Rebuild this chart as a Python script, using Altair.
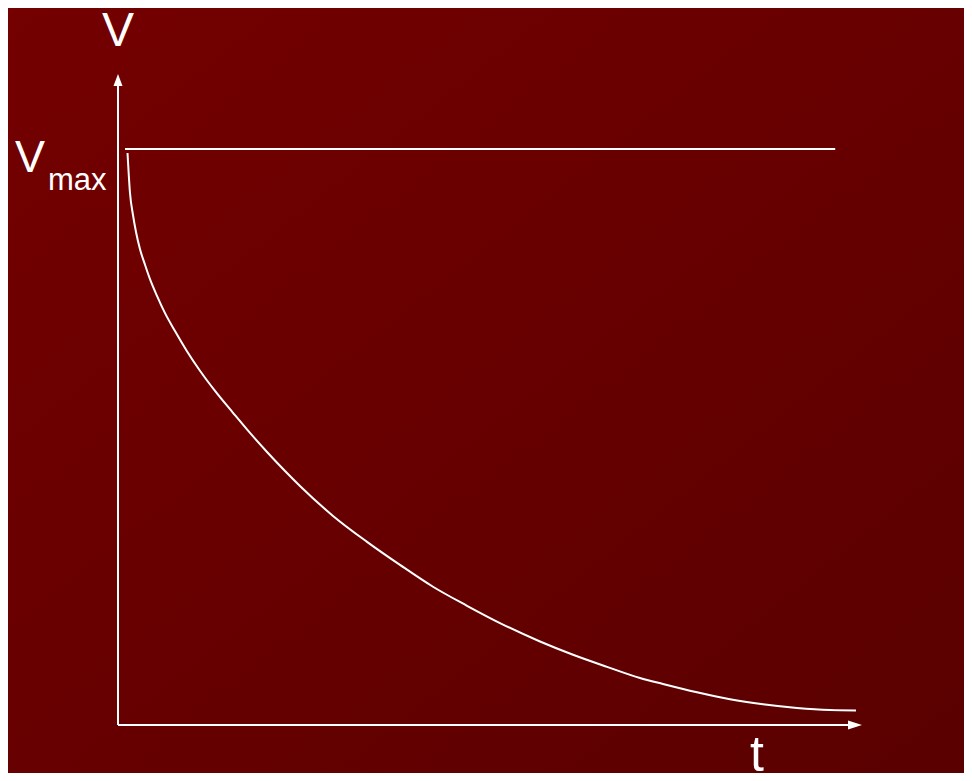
import altair as alt
import pandas as pd

# ---- data ----
curve_t = [0.128, 0.161, 0.202, 0.242, 0.296, 0.363, 0.430, 0.524, 0.632, 0.766, 0.927,
           1.102, 1.304, 1.546, 1.774, 2.003, 2.245, 2.446, 2.890, 3.347, 3.790, 4.234,
           4.691, 5.134, 5.672, 6.116, 6.573, 7.016, 7.325, 7.782, 8.226, 8.669, 9.126,
           9.570, 9.919]
curve_v = [0.993, 0.924, 0.885, 0.856, 0.826, 0.799, 0.774, 0.745, 0.715, 0.684, 0.649,
           0.615, 0.580, 0.542, 0.507, 0.474, 0.441, 0.415, 0.363, 0.318, 0.278, 0.240,
           0.207, 0.177, 0.145, 0.122, 0.101, 0.0816, 0.0712, 0.0568, 0.0446, 0.0359, 0.0295,
           0.0260, 0.0253]
vmax_t = [0.094, 9.64]
vmax_v = [1.0, 1.0]
axis_t_end = 9.906
axis_v_end = 1.12
labels = ["V", "V", "max", "t"]

# ---- layout ----
W, H = 956, 765
px_t = 74.4   # pixels per t unit
px_v = 576.0  # pixels per V unit
ox, oy = 110, 717  # origin in chart pixels
t_dom = [-ox / px_t, (W - ox) / px_t]
v_dom = [-(H - oy) / px_v, oy / px_v]

xs = alt.Scale(domain=t_dom, nice=False, zero=False)
ys = alt.Scale(domain=v_dom, nice=False, zero=False)
X = lambda f: alt.X(f, type="quantitative", scale=xs, axis=None)
Y = lambda f: alt.Y(f, type="quantitative", scale=ys, axis=None)

bg_df = pd.DataFrame({"t": [t_dom[0]], "t2": [t_dom[1]], "v": [v_dom[0]], "v2": [v_dom[1]]})
curve_df = pd.DataFrame({"t": curve_t, "v": curve_v})
vmax_df = pd.DataFrame({"t": vmax_t, "v": vmax_v})
axes_df = pd.DataFrame({"t": [0, 0], "t2": [0, axis_t_end], "v": [0, 0], "v2": [axis_v_end, 0]})
up_df = pd.DataFrame({"t": [0], "v": [axis_v_end]})
right_df = pd.DataFrame({"t": [axis_t_end], "v": [0]})

grad = alt.LinearGradient(gradient="linear", x1=0, y1=0, x2=1, y2=1,
                          stops=[alt.GradientStop(offset=0, color="#740000"),
                                 alt.GradientStop(offset=1, color="#5a0000")])
bg = alt.Chart(bg_df).mark_rect(color=grad, opacity=1).encode(
    x=X("t"), x2="t2", y=Y("v"), y2="v2")

curve = alt.Chart(curve_df).mark_line(color="white", strokeWidth=2, interpolate="monotone").encode(
    x=X("t"), y=Y("v"))
vmax = alt.Chart(vmax_df).mark_line(color="white", strokeWidth=2).encode(x=X("t"), y=Y("v"))
axes = alt.Chart(axes_df).mark_rule(color="white", strokeWidth=2).encode(
    x=X("t"), x2="t2", y=Y("v"), y2="v2")
up = alt.Chart(up_df).mark_point(shape="M0,-1L0.75,1L-0.75,1Z", filled=True, color="white",
                                 opacity=1, size=144).encode(x=X("t"), y=Y("v"))
right = alt.Chart(right_df).mark_point(shape="M1,0L-1,0.64L-1,-0.64Z", filled=True, color="white",
                                       opacity=1, size=196).encode(x=X("t"), y=Y("v"))

font = "Liberation Sans"
def label(text, t, v, size, align):
    d = pd.DataFrame({"t": [t], "v": [v], "s": [text]})
    return alt.Chart(d).mark_text(color="white", font=font, fontSize=size, align=align,
                                  baseline="alphabetic").encode(x=X("t"), y=Y("v"), text="s:N")

texts = [
    label(labels[0], 0.0, 1.179, 48, "center"),
    label(labels[1], -1.183, 0.960, 45, "center"),
    label(labels[2], -0.941, 0.929, 31, "left"),
    label(labels[3], 8.589, -0.080, 50, "center"),
]

chart = alt.layer(bg, vmax, curve, axes, up, right, *texts).properties(
    width=W, height=H, padding=0, autosize=alt.AutoSizeParams(type="none"),
    background="#660000",
).configure_view(strokeWidth=0)

chart.save("out.html", embed_options={"renderer": "svg", "actions": False})
